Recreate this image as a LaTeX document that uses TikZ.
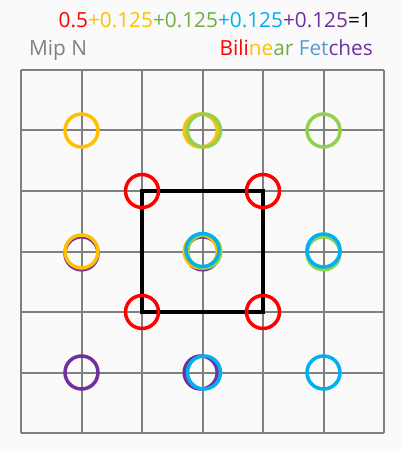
\documentclass[tikz,border=0pt]{standalone}
\usepackage{fontspec}
\setmainfont{Open Sans}
\definecolor{bg}{HTML}{FAFAFA}
\definecolor{gridgray}{HTML}{808080}
\definecolor{cred}{HTML}{FF0000}
\definecolor{corange}{HTML}{FFC000}
\definecolor{cgreen}{HTML}{92D050}
\definecolor{tgreen}{HTML}{70AD47}
\definecolor{cblue}{HTML}{00B0F0}
\definecolor{tblue}{HTML}{5B9BD5}
\definecolor{cpurple}{HTML}{7030A0}
\tikzset{
  gridline/.style={draw=gridgray, line width=2pt},
  ring/.style={line width=3.5pt},
  sq/.style={draw=black, line width=4pt},
  lbl/.style={inner sep=0pt, font=\fontsize{20.8}{24}\selectfont}
}
\begin{document}
\begin{tikzpicture}[x=1pt,y=-1pt]
\fill[bg] (0,0) rectangle (403,449);
\useasboundingbox (0,0) rectangle (403,449);
% grid
\foreach \i in {0,...,6} {
  \draw[gridline] ({21+60.5*\i},70) -- ({21+60.5*\i},433);
  \draw[gridline] (21,{70+60.5*\i}) -- (384,{70+60.5*\i});
}
\def\R{16.5}
% purple
\draw[ring, cpurple] ({21+60.5*1},{70+60.5*3+1.8}) circle (\R);
\draw[ring, cpurple] ({21+60.5*3},{70+60.5*3+1.8}) circle (\R);
\draw[ring, cpurple] ({21+60.5*1},{70+60.5*5}) circle (\R);
\draw[ring, cpurple] ({21+60.5*3-1.8},{70+60.5*5}) circle (\R);
% orange
\draw[ring, corange] ({21+60.5*1},{70+60.5*1}) circle (\R);
\draw[ring, corange] ({21+60.5*3-1.8},{70+60.5*1}) circle (\R);
\draw[ring, corange] ({21+60.5*1},{70+60.5*3}) circle (\R);
\draw[ring, corange] ({21+60.5*3-1.8},{70+60.5*3}) circle (\R);
% green
\draw[ring, cgreen] ({21+60.5*3+1.5},{70+60.5*1}) circle (\R);
\draw[ring, cgreen] ({21+60.5*5},{70+60.5*1}) circle (\R);
\draw[ring, cgreen] ({21+60.5*3+1.8},{70+60.5*3}) circle (\R);
\draw[ring, cgreen] ({21+60.5*5},{70+60.5*3+1.8}) circle (\R);
% blue
\draw[ring, cblue] ({21+60.5*3},{70+60.5*3-1.5}) circle (\R);
\draw[ring, cblue] ({21+60.5*5},{70+60.5*3-1}) circle (\R);
\draw[ring, cblue] ({21+60.5*3+1.5},{70+60.5*5}) circle (\R);
\draw[ring, cblue] ({21+60.5*5},{70+60.5*5}) circle (\R);
% black square
\draw[sq] (142,191) rectangle (263,312);
% red
\foreach \x/\y in {142/191, 263/191, 142/312, 263/312}
  \draw[ring, cred] (\x,\y) circle (\R);
% labels
\node[lbl, anchor=base east] (sum) at (372,27.5)
  {\textcolor{cred}{0.5}\textcolor{corange}{+0.125}\textcolor{tgreen}{+0.125}\textcolor{cblue}{+0.125}\textcolor{cpurple}{+0.125}=1};
\node[lbl, anchor=base west, text=gridgray] (mip) at (29,55.7) {Mip N};
\node[lbl, anchor=base east] (fetch) at (373,55.7)
  {\textcolor{cred}{Bili}\textcolor{corange}{ne}\textcolor{tgreen}{ar} \textcolor{tblue}{Fet}\textcolor{cpurple}{ches}};
\end{tikzpicture}
\end{document}
